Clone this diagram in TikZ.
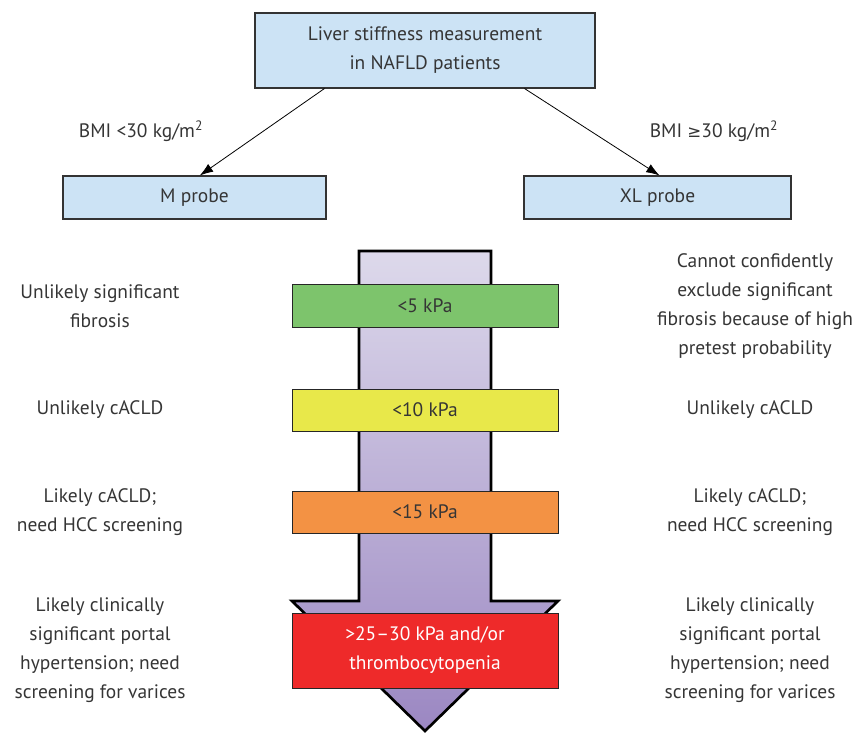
\documentclass[tikz,border=0pt]{standalone}
\usepackage{fontspec}
\setmainfont{PT Sans}
\newfontfamily\symfont{DejaVu Sans}
\usepackage{xcolor}
\usepackage{tikz}
\usetikzlibrary{arrows.meta}

\definecolor{boxblue}{HTML}{CCE3F5}
\definecolor{txtgray}{HTML}{353535}
\definecolor{kpagreen}{HTML}{7DC46C}
\definecolor{kpayellow}{HTML}{E8E84A}
\definecolor{kpaorange}{HTML}{F39244}
\definecolor{kpared}{HTML}{EE2A2A}
\definecolor{arrowtop}{HTML}{DDD9EB}
\definecolor{arrowbot}{HTML}{9B87C2}

\tikzset{
  every node/.style={text=txtgray, font=\fontsize{14.6}{21.75}\selectfont},
  bluebox/.style={draw=black!80, line width=0.8pt, fill=boxblue, inner sep=0pt, align=center},
  kpabar/.style={draw=black!85, line width=0.6pt, inner sep=0pt, minimum width=199.5pt, align=center},
  sidetext/.style={align=center, inner sep=0pt},
  probearrow/.style={-{Latex[length=10pt,width=7pt]}, line width=0.6pt}
}

\begin{document}
\begin{tikzpicture}[x=0.75pt,y=0.75pt,yscale=-1,xscale=1]
        \useasboundingbox (0,0) rectangle (853,732);

        % top and probes
        \node[bluebox, minimum width=255pt, minimum height=56.25pt] (lsm) at (425,50.5) {Liver stiffness measurement\\in NAFLD patients};
        \node[bluebox, minimum width=197.25pt, minimum height=32.25pt] (mprobe) at (194.5,197.5) {M probe};
        \node[bluebox, minimum width=200.25pt, minimum height=32.25pt] (xlprobe) at (657.5,197.5) {XL probe};

        \draw[probearrow] ([xshift=52.5pt]lsm.south west) -- ([xshift=103pt]mprobe.north west);
        \draw[probearrow] ([xshift=-53.25pt]lsm.south east) -- ([xshift=-99pt]xlprobe.north east);

        \draw (141,131) node (bmilow) {BMI <30 kg/m\textsuperscript{2}};
        \draw (714,131) node (bmihigh) {BMI {\symfont\fontsize{12.5}{15}\selectfont ≥}30 kg/m\textsuperscript{2}};

        % big arrow
        \shade[top color=arrowtop, bottom color=arrowbot] (359,251) -- (491,251) -- (491,601) -- (558,601) -- (425,731) -- (292,601) -- (359,601) -- cycle;
        \draw[line width=2pt, line join=miter] (359,251) -- (491,251) -- (491,601) -- (558,601) -- (425,731) -- (292,601) -- (359,601) -- cycle;

        % cut-offs
        \node[kpabar, fill=kpagreen, minimum height=32.25pt] (kpa5) at (425,305.5) {<5 kPa};
        \node[kpabar, fill=kpayellow, minimum height=31.5pt] (kpa10) at (425,410) {<10 kPa};
        \node[kpabar, fill=kpaorange, minimum height=31.5pt] (kpa15) at (425,512) {<15 kPa};
        \node[kpabar, fill=kpared, minimum height=56.25pt, text=white] (kpa25) at (425,650.5) {>25–30 kPa and/or\\thrombocytopenia};

        % left column
        \node[sidetext] (mfib) at (100,306.5) {Unlikely significant\\fibrosis};
        \node[sidetext] (macld) at (100,410) {Unlikely cACLD};
        \node[sidetext] (mhcc) at (100,512.5) {Likely cACLD;\\need HCC screening};
        \node[sidetext] (mcsph) at (100,650.5) {Likely clinically\\significant portal\\hypertension; need\\screening for varices};

        % right column
        \node[sidetext] (xlfib) at (755,306.5) {Cannot confidently\\exclude significant\\fibrosis because of high\\pretest probability};
        \node[sidetext] (xlacld) at (750,410) {Unlikely cACLD};
        \node[sidetext] (xlhcc) at (750,512.5) {Likely cACLD;\\need HCC screening};
        \node[sidetext] (xlcsph) at (750,650.5) {Likely clinically\\significant portal\\hypertension; need\\screening for varices};
    \end{tikzpicture}
\end{document}
